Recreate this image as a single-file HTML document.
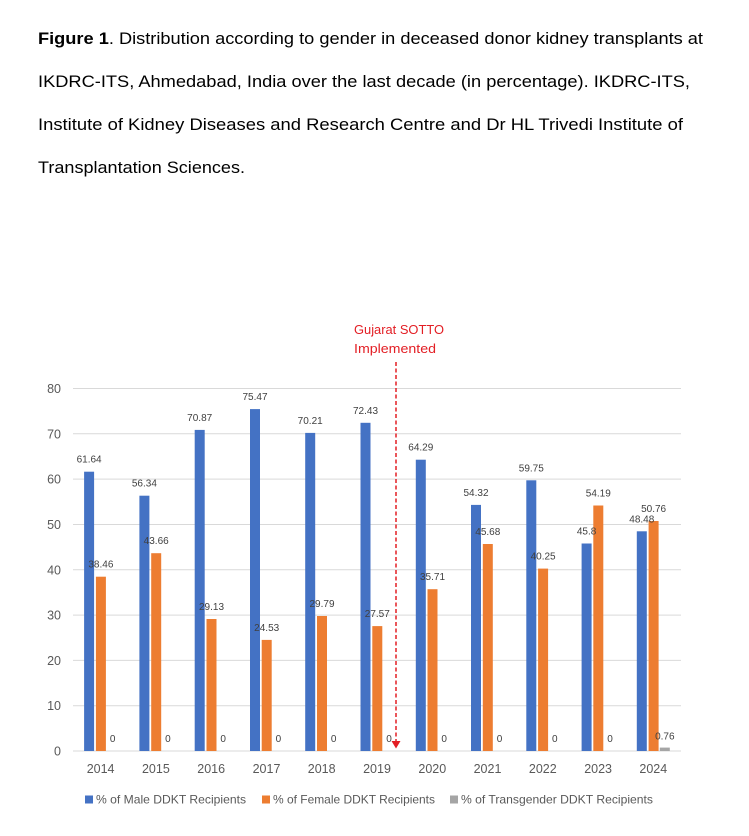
<!DOCTYPE html>
<html>
<head>
<meta charset="utf-8">
<style>
  html, body { margin:0; padding:0; background:#fff; }
  body { width:749px; height:836px; overflow:hidden; }
  svg { display:block; }
  .t { font-family:"Liberation Sans", Arial, sans-serif; font-size:16.5px; fill:#000; }
  .ax { font-family:"Liberation Sans", Arial, sans-serif; font-size:12.5px; fill:#595959; }
  .dl { font-family:"Liberation Sans", Arial, sans-serif; font-size:10px; fill:#404040; text-anchor:middle; }
  .lg { font-family:"Liberation Sans", Arial, sans-serif; font-size:12px; fill:#595959; }
  .rd { font-family:"Liberation Sans", Arial, sans-serif; font-size:13px; fill:#e31e24; }
</style>
</head>
<body>
<svg width="749" height="836" viewBox="0 0 749 836" xmlns="http://www.w3.org/2000/svg">
  <rect width="749" height="836" fill="#fff"/>
  <!-- Title -->
  <text class="t" x="38" y="44" textLength="665" lengthAdjust="spacingAndGlyphs"><tspan font-weight="bold">Figure 1</tspan>. Distribution according to gender in deceased donor kidney transplants at</text>
  <text class="t" x="38" y="87" textLength="652" lengthAdjust="spacingAndGlyphs">IKDRC-ITS, Ahmedabad, India over the last decade (in percentage). IKDRC-ITS,</text>
  <text class="t" x="38" y="130" textLength="645" lengthAdjust="spacingAndGlyphs">Institute of Kidney Diseases and Research Centre and Dr HL Trivedi Institute of</text>
  <text class="t" x="38" y="173" textLength="207" lengthAdjust="spacingAndGlyphs">Transplantation Sciences.</text>

  <!-- Gridlines -->
  <g stroke="#d9d9d9" stroke-width="1">
    <line x1="73" x2="681" y1="388.5" y2="388.5"/>
    <line x1="73" x2="681" y1="433.8" y2="433.8"/>
    <line x1="73" x2="681" y1="479.1" y2="479.1"/>
    <line x1="73" x2="681" y1="524.5" y2="524.5"/>
    <line x1="73" x2="681" y1="569.8" y2="569.8"/>
    <line x1="73" x2="681" y1="615.1" y2="615.1"/>
    <line x1="73" x2="681" y1="660.4" y2="660.4"/>
    <line x1="73" x2="681" y1="705.7" y2="705.7"/>
    <line x1="73" x2="681" y1="751" y2="751"/>
  </g>

  <!-- Y axis labels -->
  <g class="ax" text-anchor="end">
    <text x="61" y="393">80</text>
    <text x="61" y="438.3">70</text>
    <text x="61" y="483.6">60</text>
    <text x="61" y="529">50</text>
    <text x="61" y="574.3">40</text>
    <text x="61" y="619.6">30</text>
    <text x="61" y="664.9">20</text>
    <text x="61" y="710.2">10</text>
    <text x="61" y="755.5">0</text>
  </g>

  <!-- Male bars -->
  <g fill="#4472c4">
    <rect x="84.1" y="471.7" width="10" height="279.3"/>
    <rect x="139.4" y="495.7" width="10" height="255.3"/>
    <rect x="194.7" y="429.9" width="10" height="321.1"/>
    <rect x="250.0" y="409.1" width="10" height="341.9"/>
    <rect x="305.2" y="432.9" width="10" height="318.1"/>
    <rect x="360.5" y="422.8" width="10" height="328.2"/>
    <rect x="415.8" y="459.7" width="10" height="291.3"/>
    <rect x="471.0" y="504.9" width="10" height="246.1"/>
    <rect x="526.3" y="480.3" width="10" height="270.7"/>
    <rect x="581.6" y="543.5" width="10" height="207.5"/>
    <rect x="636.8" y="531.3" width="10" height="219.7"/>
  </g>
  <!-- Female bars -->
  <g fill="#ed7d31">
    <rect x="95.9" y="576.7" width="10" height="174.3"/>
    <rect x="151.2" y="553.2" width="10" height="197.8"/>
    <rect x="206.5" y="619.0" width="10" height="132.0"/>
    <rect x="261.7" y="639.9" width="10" height="111.1"/>
    <rect x="317.0" y="616.0" width="10" height="135.0"/>
    <rect x="372.3" y="626.1" width="10" height="124.9"/>
    <rect x="427.5" y="589.2" width="10" height="161.8"/>
    <rect x="482.8" y="544.0" width="10" height="207.0"/>
    <rect x="538.1" y="568.6" width="10" height="182.4"/>
    <rect x="593.3" y="505.5" width="10" height="245.5"/>
    <rect x="648.6" y="521.0" width="10" height="230.0"/>
  </g>
  <!-- Transgender bar -->
  <rect x="659.8" y="747.6" width="10" height="3.4" fill="#a5a5a5"/>

  <!-- Data labels male -->
  <g class="dl">
    <text x="89.1" y="462.7">61.64</text>
    <text x="144.4" y="486.7">56.34</text>
    <text x="199.7" y="420.9">70.87</text>
    <text x="255.0" y="400.1">75.47</text>
    <text x="310.2" y="423.9">70.21</text>
    <text x="365.5" y="413.8">72.43</text>
    <text x="420.8" y="450.7">64.29</text>
    <text x="476.0" y="495.9">54.32</text>
    <text x="531.3" y="471.3">59.75</text>
    <text x="586.6" y="534.5">45.8</text>
    <text x="641.8" y="522.3">48.48</text>
  </g>
  <!-- Data labels female -->
  <g class="dl">
    <text x="100.9" y="567.7">38.46</text>
    <text x="156.2" y="544.2">43.66</text>
    <text x="211.5" y="610.0">29.13</text>
    <text x="266.7" y="630.9">24.53</text>
    <text x="322.0" y="607.0">29.79</text>
    <text x="377.3" y="617.1">27.57</text>
    <text x="432.5" y="580.2">35.71</text>
    <text x="487.8" y="535.0">45.68</text>
    <text x="543.1" y="559.6">40.25</text>
    <text x="598.3" y="496.5">54.19</text>
    <text x="653.6" y="512.0">50.76</text>
  </g>
  <!-- Data labels transgender -->
  <g class="dl">
    <text x="112.6" y="742">0</text>
    <text x="167.9" y="742">0</text>
    <text x="223.2" y="742">0</text>
    <text x="278.4" y="742">0</text>
    <text x="333.7" y="742">0</text>
    <text x="389.0" y="742">0</text>
    <text x="444.2" y="742">0</text>
    <text x="499.5" y="742">0</text>
    <text x="554.8" y="742">0</text>
    <text x="610.0" y="742">0</text>
    <text x="664.8" y="739.5">0.76</text>
  </g>

  <!-- X axis labels -->
  <g class="ax" text-anchor="middle">
    <text x="100.6" y="773">2014</text>
    <text x="155.9" y="773">2015</text>
    <text x="211.2" y="773">2016</text>
    <text x="266.5" y="773">2017</text>
    <text x="321.7" y="773">2018</text>
    <text x="377.0" y="773">2019</text>
    <text x="432.3" y="773">2020</text>
    <text x="487.5" y="773">2021</text>
    <text x="542.8" y="773">2022</text>
    <text x="598.1" y="773">2023</text>
    <text x="653.3" y="773">2024</text>
  </g>

  <!-- Annotation -->
  <text class="rd" x="354" y="334" textLength="90" lengthAdjust="spacingAndGlyphs">Gujarat SOTTO</text>
  <text class="rd" x="354" y="353" textLength="82" lengthAdjust="spacingAndGlyphs">Implemented</text>
  <line x1="396" y1="362" x2="396" y2="742" stroke="#e31e24" stroke-width="1.5" stroke-dasharray="4 2.5"/>
  <polygon points="391.5,741 400.5,741 396,748.5" fill="#e31e24"/>

  <!-- Legend -->
  <rect x="85" y="795.5" width="8" height="8" fill="#4472c4"/>
  <text class="lg" x="96" y="803.5" textLength="150" lengthAdjust="spacingAndGlyphs">% of Male DDKT Recipients</text>
  <rect x="262" y="795.5" width="8" height="8" fill="#ed7d31"/>
  <text class="lg" x="273" y="803.5" textLength="162" lengthAdjust="spacingAndGlyphs">% of Female DDKT Recipients</text>
  <rect x="450" y="795.5" width="8" height="8" fill="#a5a5a5"/>
  <text class="lg" x="461" y="803.5" textLength="192" lengthAdjust="spacingAndGlyphs">% of Transgender DDKT Recipients</text>
</svg>
</body>
</html>
